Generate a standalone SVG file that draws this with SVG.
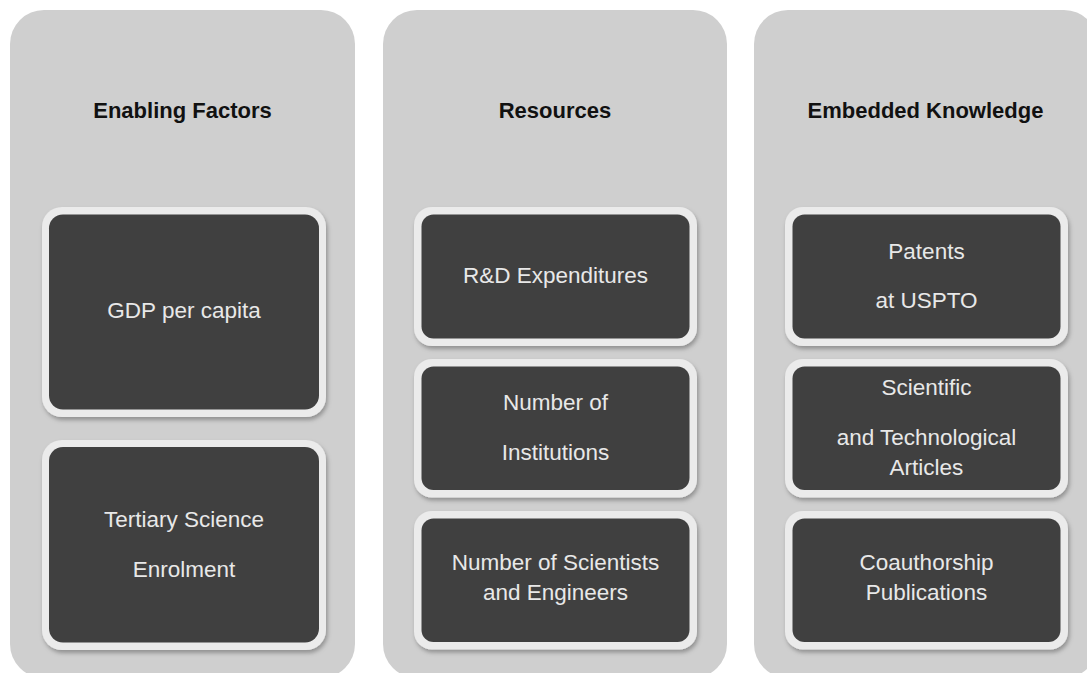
<svg xmlns="http://www.w3.org/2000/svg" width="1087" height="673" viewBox="0 0 1087 673">
  <style>
    .panel { fill: #cfcfcf; }
    .frame { fill: #ebebeb; filter: url(#shadow); }
    .card { fill: #404040; }
    .head { font-family: "Liberation Sans", Arial, sans-serif; font-weight: bold; font-size: 22px; fill: #111111; text-anchor: middle; }
    .label { font-family: "Liberation Sans", Arial, sans-serif; font-size: 22.5px; fill: #e8e8e8; text-anchor: middle; }
  </style>
  <defs>
    <filter id="shadow" x="-10%" y="-10%" width="125%" height="130%">
      <feDropShadow dx="1.5" dy="3" stdDeviation="2" flood-color="#000000" flood-opacity="0.3"/>
    </filter>
  </defs>
  <rect width="1087" height="673" fill="#ffffff"/>

  <!-- Column 1: Enabling Factors -->
  <g id="enabling-factors">
    <rect class="panel" x="10" y="10" width="345" height="668" rx="34"/>
    <text class="head" x="182.5" y="118">Enabling Factors</text>
  </g>
  <g id="gdp-per-capita">
    <rect class="frame" x="42" y="207" width="284" height="210" rx="20"/>
    <rect class="card" x="49" y="214.5" width="270" height="195" rx="14"/>
    <text class="label" x="184" y="318">GDP per capita</text>
  </g>
  <g id="tertiary-science-enrolment">
    <rect class="frame" x="42" y="440" width="284" height="210" rx="20"/>
    <rect class="card" x="49" y="447" width="270" height="195.5" rx="14"/>
    <text class="label" x="184" y="527">Tertiary Science</text>
    <text class="label" x="184" y="577">Enrolment</text>
  </g>

  <!-- Column 2: Resources -->
  <g id="resources">
    <rect class="panel" x="383" y="10" width="344" height="668" rx="34"/>
    <text class="head" x="555" y="118">Resources</text>
  </g>
  <g id="rd-expenditures">
    <rect class="frame" x="414" y="207" width="283" height="139" rx="18"/>
    <rect class="card" x="421.5" y="214.5" width="268" height="124" rx="12"/>
    <text class="label" x="555.5" y="283">R&amp;D Expenditures</text>
  </g>
  <g id="number-of-institutions">
    <rect class="frame" x="414" y="359" width="283" height="138.5" rx="18"/>
    <rect class="card" x="421.5" y="366.5" width="268" height="123.5" rx="12"/>
    <text class="label" x="555.5" y="410">Number of</text>
    <text class="label" x="555.5" y="460">Institutions</text>
  </g>
  <g id="number-of-scientists">
    <rect class="frame" x="414" y="511" width="283" height="138.5" rx="18"/>
    <rect class="card" x="421.5" y="518.5" width="268" height="123.5" rx="12"/>
    <text class="label" x="555.5" y="570">Number of Scientists</text>
    <text class="label" x="555.5" y="600">and Engineers</text>
  </g>

  <!-- Column 3: Embedded Knowledge -->
  <g id="embedded-knowledge">
    <rect class="panel" x="754" y="10" width="344" height="668" rx="34"/>
    <text class="head" x="925.5" y="118">Embedded Knowledge</text>
  </g>
  <g id="patents-uspto">
    <rect class="frame" x="785" y="207" width="283" height="139" rx="18"/>
    <rect class="card" x="792.5" y="214.5" width="268" height="124" rx="12"/>
    <text class="label" x="926.5" y="259">Patents</text>
    <text class="label" x="926.5" y="308">at USPTO</text>
  </g>
  <g id="scientific-articles">
    <rect class="frame" x="785" y="359" width="283" height="138.5" rx="18"/>
    <rect class="card" x="792.5" y="366.5" width="268" height="123.5" rx="12"/>
    <text class="label" x="926.5" y="395">Scientific</text>
    <text class="label" x="926.5" y="445">and Technological</text>
    <text class="label" x="926.5" y="475">Articles</text>
  </g>
  <g id="coauthorship-publications">
    <rect class="frame" x="785" y="511" width="283" height="138.5" rx="18"/>
    <rect class="card" x="792.5" y="518.5" width="268" height="123.5" rx="12"/>
    <text class="label" x="926.5" y="570">Coauthorship</text>
    <text class="label" x="926.5" y="600">Publications</text>
  </g>
</svg>
